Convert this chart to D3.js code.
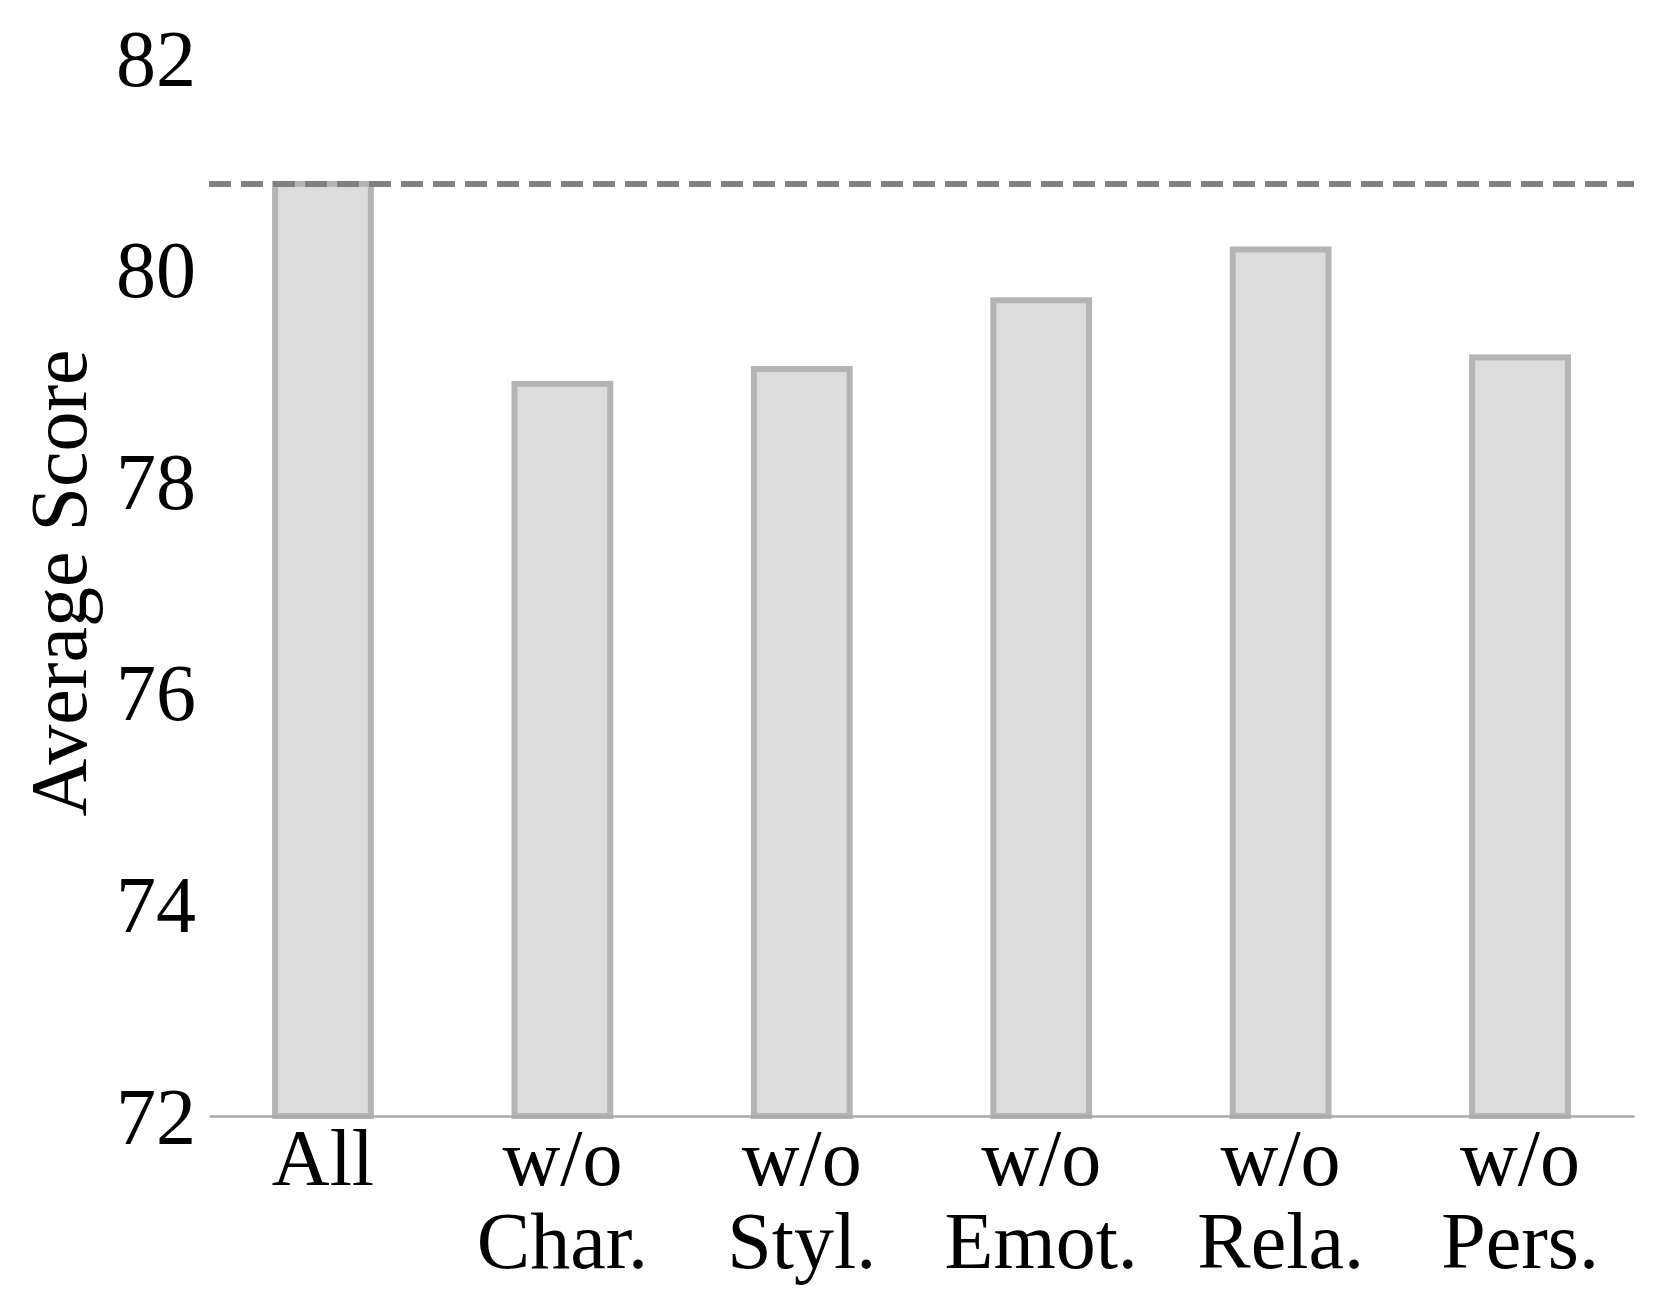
<!DOCTYPE html>
<html>
<head>
<meta charset="utf-8">
<script src="https://cdn.jsdelivr.net/npm/d3@7"></script>
<style>
  html, body { margin: 0; padding: 0; background: #fff; }
  svg { display: block; }
  text { font-family: "Liberation Serif", "Times New Roman", serif; fill: #000; }
</style>
</head>
<body>
<div id="chart"></div>
<script>
  // ablation data
  var categories = ['All', 'w/o Char.', 'w/o Styl.', 'w/o Emot.', 'w/o Rela.', 'w/o Pers.'];
  var scores = [80.81, 78.92, 79.06, 79.71, 80.19, 79.17];
  var reference = 80.81;
  var yTicks = [72, 74, 76, 78, 80, 82];

  var width = 1661, height = 1315;
  var fontSize = 80;

  var svg = d3.select('#chart').append('svg')
    .attr('width', width)
    .attr('height', height);

  var x = d3.scaleBand()
    .domain(categories)
    .range([209, 1634])
    .paddingInner(0.6)
    .paddingOuter(0.276);

  var y = d3.scaleLinear()
    .domain([72, 82])
    .range([1116, 58]);

  // bars
  svg.append('g').selectAll('rect')
    .data(categories)
    .enter().append('rect')
    .attr('x', function(d) { return x(d); })
    .attr('width', x.bandwidth())
    .attr('y', function(d, i) { return y(scores[i]); })
    .attr('height', function(d, i) { return y(72) - y(scores[i]); })
    .style('fill', '#dcdcdc')
    .style('stroke', '#b4b4b4')
    .style('stroke-width', 6);

  // reference line at full model score
  svg.append('line')
    .attr('x1', x.range()[0]).attr('x2', x.range()[1])
    .attr('y1', y(reference)).attr('y2', y(reference))
    .style('stroke', '#808080')
    .style('stroke-width', 6)
    .style('stroke-dasharray', '22,10');

  // y axis (labels only)
  var yAxis = svg.append('g')
    .attr('transform', 'translate(196,0)')
    .call(d3.axisLeft(y).tickValues(yTicks).tickSize(0).tickPadding(0));
  yAxis.select('.domain').remove();
  yAxis.selectAll('text')
    .attr('dy', null)
    .attr('y', 27)
    .style('font-size', fontSize + 'px')
    .style('font-family', '"Liberation Serif", serif')
    .style('fill', '#000');

  // x axis
  var xAxis = svg.append('g')
    .attr('transform', 'translate(0,' + y(72) + ')')
    .call(d3.axisBottom(x).tickSize(0).tickFormat(''));
  xAxis.select('.domain')
    .style('stroke', '#aaaaaa')
    .style('stroke-width', 2.7);

  xAxis.selectAll('.tick').each(function(d) {
    var parts = d.indexOf(' ') > 0 ? [d.slice(0, d.indexOf(' ')), d.slice(d.indexOf(' ') + 1)] : [d];
    var t = d3.select(this).select('text')
      .attr('y', null).attr('dy', null)
      .style('font-size', fontSize + 'px')
      .style('font-family', '"Liberation Serif", serif')
      .style('fill', '#000')
      .attr('text-anchor', 'middle');
    parts.forEach(function(p, k) {
      t.append('tspan')
        .attr('x', 0)
        .attr('y', 69 + k * 83)
        .text(p);
    });
  });

  // y axis title
  svg.append('text')
    .attr('transform', 'translate(86,583) rotate(-90)')
    .attr('text-anchor', 'middle')
    .style('font-size', fontSize + 'px')
    .text('Average Score');
</script>
</body>
</html>
